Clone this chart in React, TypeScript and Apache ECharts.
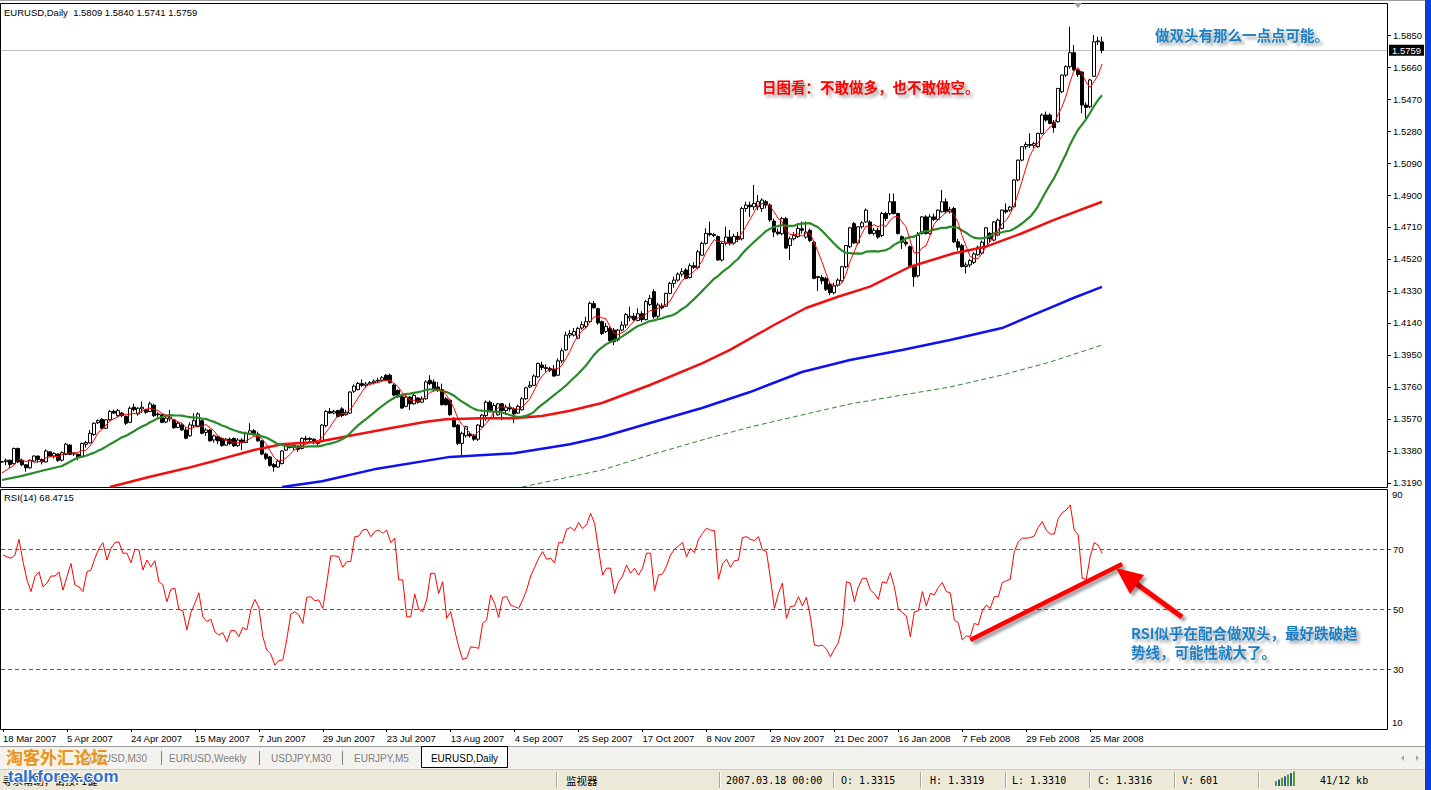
import React, { useEffect, useRef } from "react";
import * as echarts from "echarts";

// ---------- data ----------
// daily bars, [open, high, low, close]
const candles: number[][] = [
  [1.3315,1.3319,1.3310,1.3316],[1.3316,1.3335,1.3295,1.3325],[1.3325,1.3330,1.3280,1.3300],[1.3305,1.3400,1.3300,1.3395],
  [1.3395,1.3400,1.3310,1.3315],[1.3325,1.3335,1.3290,1.3298],[1.3298,1.3300,1.3257,1.3280],[1.3280,1.3330,1.3275,1.3325],
  [1.3320,1.3355,1.3315,1.3350],[1.3350,1.3352,1.3310,1.3330],[1.3330,1.3335,1.3300,1.3315],[1.3315,1.3390,1.3312,1.3380],
  [1.3375,1.3378,1.3345,1.3350],[1.3350,1.3372,1.3335,1.3365],[1.3362,1.3365,1.3315,1.3325],[1.3325,1.3378,1.3318,1.3370],
  [1.3360,1.3428,1.3355,1.3420],[1.3415,1.3420,1.3355,1.3360],[1.3362,1.3372,1.3350,1.3366],[1.3360,1.3365,1.3325,1.3340],
  [1.3345,1.3430,1.3340,1.3425],[1.3420,1.3440,1.3400,1.3430],[1.3428,1.3505,1.3425,1.3485],[1.3478,1.3550,1.3470,1.3545],
  [1.3548,1.3568,1.3540,1.3560],[1.3568,1.3575,1.3510,1.3515],[1.3515,1.3570,1.3510,1.3565],[1.3565,1.3624,1.3560,1.3614],
  [1.3615,1.3625,1.3600,1.3605],[1.3590,1.3630,1.3580,1.3620],[1.3605,1.3612,1.3580,1.3590],[1.3585,1.3590,1.3535,1.3545],
  [1.3550,1.3645,1.3545,1.3634],[1.3640,1.3660,1.3615,1.3625],[1.3600,1.3640,1.3590,1.3634],[1.3630,1.3673,1.3605,1.3640],
  [1.3625,1.3630,1.3600,1.3610],[1.3615,1.3673,1.3610,1.3660],[1.3652,1.3660,1.3582,1.3590],[1.3595,1.3610,1.3580,1.3600],
  [1.3595,1.3600,1.3545,1.3550],[1.3552,1.3585,1.3545,1.3575],[1.3570,1.3624,1.3555,1.3580],[1.3565,1.3570,1.3512,1.3518],
  [1.3520,1.3555,1.3515,1.3545],[1.3535,1.3545,1.3500,1.3505],[1.3505,1.3520,1.3450,1.3456],[1.3470,1.3550,1.3465,1.3535],
  [1.3530,1.3604,1.3520,1.3560],[1.3525,1.3610,1.3520,1.3600],[1.3560,1.3565,1.3480,1.3485],[1.3490,1.3515,1.3470,1.3505],
  [1.3505,1.3510,1.3436,1.3440],[1.3445,1.3478,1.3430,1.3470],[1.3465,1.3470,1.3420,1.3440],[1.3455,1.3460,1.3406,1.3412],
  [1.3415,1.3456,1.3410,1.3450],[1.3450,1.3460,1.3415,1.3425],[1.3455,1.3460,1.3405,1.3410],[1.3412,1.3456,1.3405,1.3445],
  [1.3445,1.3456,1.3386,1.3430],[1.3430,1.3495,1.3428,1.3485],[1.3485,1.3545,1.3480,1.3500],[1.3500,1.3510,1.3470,1.3480],
  [1.3480,1.3495,1.3435,1.3440],[1.3440,1.3445,1.3355,1.3362],[1.3362,1.3370,1.3325,1.3335],[1.3345,1.3350,1.3287,1.3295],
  [1.3300,1.3310,1.3257,1.3285],[1.3285,1.3330,1.3280,1.3320],[1.3305,1.3385,1.3300,1.3380],[1.3385,1.3420,1.3380,1.3410],
  [1.3410,1.3420,1.3395,1.3400],[1.3400,1.3428,1.3385,1.3415],[1.3410,1.3412,1.3375,1.3390],[1.3395,1.3460,1.3390,1.3455],
  [1.3455,1.3470,1.3440,1.3448],[1.3448,1.3462,1.3440,1.3455],[1.3450,1.3455,1.3420,1.3430],[1.3430,1.3440,1.3410,1.3425],
  [1.3440,1.3540,1.3430,1.3534],[1.3530,1.3623,1.3520,1.3615],[1.3615,1.3635,1.3600,1.3605],[1.3605,1.3625,1.3598,1.3615],
  [1.3620,1.3625,1.3580,1.3585],[1.3630,1.3640,1.3580,1.3590],[1.3595,1.3625,1.3590,1.3610],[1.3605,1.3735,1.3600,1.3730],
  [1.3735,1.3775,1.3725,1.3765],[1.3745,1.3790,1.3740,1.3781],[1.3780,1.3805,1.3760,1.3770],[1.3770,1.3790,1.3755,1.3778],
  [1.3778,1.3795,1.3770,1.3786],[1.3786,1.3805,1.3775,1.3795],[1.3795,1.3815,1.3785,1.3800],[1.3800,1.3825,1.3790,1.3815],
  [1.3830,1.3835,1.3795,1.3800],[1.3830,1.3840,1.3780,1.3785],[1.3772,1.3780,1.3705,1.3712],[1.3740,1.3745,1.3695,1.3702],
  [1.3702,1.3710,1.3630,1.3635],[1.3645,1.3712,1.3640,1.3700],[1.3700,1.3705,1.3623,1.3660],[1.3660,1.3722,1.3655,1.3710],
  [1.3695,1.3700,1.3660,1.3670],[1.3670,1.3705,1.3665,1.3690],[1.3690,1.3800,1.3685,1.3790],[1.3800,1.3830,1.3770,1.3780],
  [1.3790,1.3805,1.3738,1.3745],[1.3760,1.3790,1.3730,1.3740],[1.3745,1.3780,1.3650,1.3655],[1.3690,1.3700,1.3650,1.3655],
  [1.3682,1.3690,1.3590,1.3595],[1.3574,1.3580,1.3520,1.3524],[1.3534,1.3540,1.3415,1.3425],[1.3425,1.3495,1.3346,1.3485],
  [1.3470,1.3530,1.3460,1.3524],[1.3480,1.3495,1.3460,1.3470],[1.3470,1.3480,1.3440,1.3450],[1.3450,1.3540,1.3440,1.3534],
  [1.3524,1.3600,1.3520,1.3593],[1.3590,1.3680,1.3560,1.3670],[1.3670,1.3680,1.3610,1.3613],[1.3613,1.3665,1.3575,1.3650],
  [1.3595,1.3665,1.3590,1.3660],[1.3660,1.3665,1.3565,1.3620],[1.3620,1.3655,1.3595,1.3640],[1.3640,1.3665,1.3615,1.3630],
  [1.3630,1.3640,1.3545,1.3600],[1.3605,1.3655,1.3600,1.3645],[1.3625,1.3700,1.3620,1.3690],[1.3690,1.3762,1.3685,1.3755],
  [1.3760,1.3795,1.3755,1.3770],[1.3770,1.3835,1.3765,1.3825],[1.3820,1.3905,1.3815,1.3900],[1.3890,1.3910,1.3860,1.3875],
  [1.3875,1.3895,1.3850,1.3870],[1.3870,1.3880,1.3850,1.3860],[1.3865,1.3890,1.3820,1.3825],[1.3830,1.3930,1.3825,1.3915],
  [1.3915,1.3990,1.3900,1.3975],[1.3980,1.4088,1.3975,1.4068],[1.4068,1.4098,1.4050,1.4078],[1.4068,1.4110,1.4060,1.4090],
  [1.4050,1.4118,1.4045,1.4108],[1.4110,1.4150,1.4100,1.4130],[1.4120,1.4177,1.4110,1.4148],[1.4148,1.4267,1.4140,1.4257],
  [1.4255,1.4270,1.4225,1.4230],[1.4225,1.4230,1.4130,1.4140],[1.4148,1.4155,1.4068,1.4078],[1.4090,1.4140,1.4080,1.4120],
  [1.4108,1.4118,1.4020,1.4035],[1.4098,1.4110,1.4009,1.4029],[1.4040,1.4105,1.4030,1.4098],[1.4098,1.4150,1.4090,1.4128],
  [1.4128,1.4200,1.4110,1.4190],[1.4170,1.4237,1.4150,1.4180],[1.4180,1.4200,1.4150,1.4160],[1.4155,1.4227,1.4150,1.4195],
  [1.4195,1.4210,1.4145,1.4160],[1.4160,1.4277,1.4155,1.4267],[1.4250,1.4306,1.4240,1.4286],[1.4326,1.4340,1.4165,1.4177],
  [1.4180,1.4260,1.4170,1.4247],[1.4240,1.4257,1.4220,1.4230],[1.4240,1.4320,1.4235,1.4316],[1.4316,1.4385,1.4310,1.4375],
  [1.4375,1.4415,1.4350,1.4395],[1.4395,1.4440,1.4385,1.4430],[1.4430,1.4465,1.4415,1.4445],[1.4455,1.4465,1.4400,1.4405],
  [1.4410,1.4494,1.4405,1.4480],[1.4480,1.4500,1.4460,1.4470],[1.4470,1.4573,1.4460,1.4563],[1.4543,1.4623,1.4540,1.4613],
  [1.4613,1.4702,1.4605,1.4672],[1.4672,1.4742,1.4655,1.4665],[1.4665,1.4675,1.4650,1.4660],[1.4653,1.4660,1.4510,1.4514],
  [1.4514,1.4620,1.4505,1.4613],[1.4613,1.4712,1.4600,1.4650],[1.4650,1.4692,1.4600,1.4615],[1.4615,1.4670,1.4605,1.4655],
  [1.4655,1.4680,1.4620,1.4635],[1.4640,1.4830,1.4630,1.4820],[1.4820,1.4860,1.4800,1.4840],[1.4840,1.4860,1.4770,1.4830],
  [1.4830,1.4960,1.4810,1.4850],[1.4830,1.4900,1.4810,1.4860],[1.4820,1.4880,1.4800,1.4870],[1.4860,1.4870,1.4820,1.4840],
  [1.4840,1.4850,1.4740,1.4752],[1.4745,1.4760,1.4650,1.4680],[1.4680,1.4700,1.4660,1.4670],[1.4670,1.4770,1.4660,1.4760],
  [1.4760,1.4770,1.4580,1.4585],[1.4600,1.4653,1.4514,1.4640],[1.4640,1.4680,1.4630,1.4660],[1.4653,1.4732,1.4645,1.4702],
  [1.4700,1.4742,1.4670,1.4690],[1.4650,1.4742,1.4640,1.4680],[1.4690,1.4700,1.4620,1.4630],[1.4620,1.4630,1.4400,1.4405],
  [1.4415,1.4420,1.4330,1.4410],[1.4410,1.4425,1.4370,1.4390],[1.4405,1.4415,1.4330,1.4340],[1.4370,1.4385,1.4305,1.4320],
  [1.4320,1.4380,1.4310,1.4360],[1.4365,1.4405,1.4355,1.4395],[1.4390,1.4480,1.4385,1.4474],[1.4474,1.4603,1.4465,1.4600],
  [1.4593,1.4711,1.4585,1.4705],[1.4730,1.4740,1.4610,1.4615],[1.4615,1.4715,1.4605,1.4711],[1.4711,1.4745,1.4700,1.4735],
  [1.4740,1.4820,1.4735,1.4810],[1.4740,1.4750,1.4665,1.4672],[1.4672,1.4705,1.4660,1.4690],[1.4690,1.4705,1.4640,1.4650],
  [1.4660,1.4800,1.4650,1.4790],[1.4790,1.4800,1.4745,1.4760],[1.4790,1.4909,1.4780,1.4860],[1.4860,1.4909,1.4785,1.4790],
  [1.4790,1.4795,1.4665,1.4672],[1.4652,1.4660,1.4580,1.4620],[1.4620,1.4650,1.4595,1.4610],[1.4593,1.4600,1.4470,1.4474],
  [1.4474,1.4480,1.4355,1.4414],[1.4420,1.4680,1.4410,1.4660],[1.4672,1.4775,1.4665,1.4770],[1.4770,1.4780,1.4665,1.4672],
  [1.4672,1.4785,1.4665,1.4770],[1.4770,1.4790,1.4745,1.4755],[1.4755,1.4815,1.4745,1.4810],[1.4800,1.4929,1.4795,1.4860],
  [1.4860,1.4880,1.4790,1.4800],[1.4800,1.4830,1.4790,1.4815],[1.4820,1.4830,1.4615,1.4622],[1.4622,1.4640,1.4570,1.4590],
  [1.4600,1.4610,1.4470,1.4475],[1.4475,1.4500,1.4434,1.4485],[1.4485,1.4520,1.4470,1.4510],[1.4500,1.4560,1.4490,1.4550],
  [1.4545,1.4600,1.4540,1.4590],[1.4555,1.4630,1.4550,1.4620],[1.4593,1.4711,1.4585,1.4705],[1.4672,1.4680,1.4620,1.4640],
  [1.4632,1.4745,1.4625,1.4740],[1.4662,1.4760,1.4655,1.4751],[1.4701,1.4815,1.4695,1.4810],[1.4810,1.4850,1.4790,1.4800],
  [1.4810,1.4835,1.4800,1.4828],[1.4830,1.4995,1.4825,1.4989],[1.4989,1.5110,1.4980,1.5107],[1.5107,1.5190,1.5100,1.5187],
  [1.5187,1.5215,1.5170,1.5200],[1.5200,1.5266,1.5180,1.5195],[1.5195,1.5215,1.5180,1.5205],[1.5187,1.5270,1.5180,1.5266],
  [1.5266,1.5385,1.5260,1.5375],[1.5375,1.5395,1.5335,1.5345],[1.5375,1.5385,1.5320,1.5325],[1.5330,1.5345,1.5270,1.5300],
  [1.5335,1.5535,1.5330,1.5533],[1.5513,1.5615,1.5505,1.5612],[1.5612,1.5670,1.5600,1.5662],[1.5662,1.5899,1.5650,1.5745],
  [1.5745,1.5790,1.5640,1.5642],[1.5642,1.5650,1.5600,1.5615],[1.5630,1.5635,1.5385,1.5434],[1.5434,1.5450,1.5355,1.5420],
  [1.5424,1.5590,1.5415,1.5583],[1.5605,1.5850,1.5600,1.5810],[1.5810,1.5840,1.5790,1.5815],[1.5809,1.5840,1.5741,1.5759],
];

// RSI(14) per bar
const rsiValues: number[] = [
  68.0,67.4,66.9,68.0,73.2,65.8,59.7,55.8,60.8,62.4,57.4,58.6,61.0,61.0,62.4,56.3,60.8,65.2,58.0,57.4,
  55.8,62.4,63.0,66.9,70.2,72.1,66.3,70.2,72.1,72.4,68.6,68.6,65.4,69.9,69.7,63.0,66.3,64.1,66.1,59.1,
  58.0,52.4,56.6,56.9,49.9,49.4,43.0,48.8,51.9,55.4,47.4,45.8,46.6,42.4,41.3,42.1,39.1,42.8,42.8,40.8,
  43.9,43.0,49.7,53.2,50.6,40.8,36.3,35.0,31.3,32.8,33.0,39.9,48.3,49.1,48.0,45.2,53.9,54.1,52.8,53.0,
  50.2,58.6,67.7,67.7,67.4,63.9,65.8,65.8,74.1,74.3,76.3,76.6,74.1,75.8,76.3,75.2,76.3,72.1,73.6,59.7,
  59.7,47.4,47.4,55.0,49.9,49.1,53.0,61.9,61.9,55.2,59.1,46.9,49.1,43.0,37.4,33.2,33.6,37.4,37.2,36.9,
  45.2,46.3,54.7,51.9,47.2,53.9,54.1,51.3,50.8,50.2,53.0,56.3,61.0,63.9,66.9,69.1,66.6,
  66.9,65.4,72.1,72.1,76.6,77.2,76.1,78.8,76.8,78.1,
  81.9,78.6,69.7,61.3,63.6,63.6,55.2,59.1,61.0,64.7,
  61.9,63.6,61.3,63.6,68.6,68.6,56.1,61.3,61.7,64.3,
  68.0,69.9,71.0,72.2,67.4,70.2,68.8,73.2,75.2,76.9,
  76.3,76.1,59.9,65.0,66.6,63.9,66.1,66.3,73.8,74.1,
  73.2,72.8,74.1,69.7,69.1,60.2,50.2,55.2,58.6,46.9,
  50.8,51.0,54.1,51.0,53.9,47.2,38.0,37.7,38.0,36.6,
  34.1,36.6,38.8,44.7,59.1,58.6,52.4,57.4,60.2,60.2,
  56.3,55.2,53.2,59.1,58.6,62.1,57.4,49.9,48.8,47.7,
  40.8,49.1,49.4,55.8,51.0,55.2,54.7,57.2,58.8,55.8,
  55.4,46.3,45.4,39.7,41.0,40.8,45.2,44.7,49.4,51.3,
  50.2,54.1,54.1,58.8,59.4,59.9,69.1,72.4,73.6,73.6,
  73.8,74.3,77.2,79.1,76.3,75.0,75.0,80.2,82.1,83.0,
  84.7,76.3,74.7,60.2,59.9,67.4,72.1,71.3,68.47,
];

const dateLabels = [
  "18 Mar 2007","5 Apr 2007","24 Apr 2007","15 May 2007","7 Jun 2007","29 Jun 2007",
  "23 Jul 2007","13 Aug 2007","4 Sep 2007","25 Sep 2007","17 Oct 2007","8 Nov 2007",
  "29 Nov 2007","21 Dec 2007","16 Jan 2008","7 Feb 2008","29 Feb 2008","25 Mar 2008",
];
const priceTicks = [1.319,1.338,1.357,1.376,1.395,1.414,1.433,1.452,1.471,1.490,1.509,1.528,1.547,1.566,1.585];
const rsiLevels = [30, 50, 70];

// moving-average lines: [bar index, value]
const thinRedLead: number[][] = [[0, 1.3250], [3, 1.3295]];
const greenLead: number[][] = [[0, 1.3208], [5, 1.3232], [10, 1.3263], [15, 1.3291]];
const ma50Points: number[][] = [
  [27,1.3166],[37,1.3227],[46,1.3277],[54,1.3327],[63,1.3386],[70,1.3420],[79,1.3435],[88,1.3475],
  [97,1.3515],[106,1.3554],[111,1.3568],[120,1.3574],[128,1.3574],[135,1.3588],[142,1.3619],[150,1.3665],
  [162,1.3772],[175,1.3900],[182,1.3980],[193,1.4128],[201,1.4229],[209,1.4296],[217,1.4356],[227,1.4474],
  [238,1.4554],[246,1.4593],[255,1.4673],[263,1.4752],[275,1.4860],
];
const ma100Points: number[][] = [
  [70,1.3166],[80,1.3200],[93,1.3271],[112,1.3345],[128,1.3366],[142,1.3420],[150,1.3463],[162,1.3546],
  [175,1.3635],[187,1.3730],[200,1.3849],[212,1.3920],[225,1.3980],[237,1.4039],[250,1.4110],[256,1.4170],
  [262,1.4230],[268,1.4290],[275,1.4354],
];
const ma200Points: number[][] = [
  [130,1.3166],[150,1.3267],[162,1.3356],[175,1.3445],[187,1.3522],[200,1.3594],[212,1.3659],[225,1.3712],
  [237,1.3760],[250,1.3831],[262,1.3908],[275,1.4009],
];
const rsiTrend: number[][] = [[242, 39.7], [280, 65.0]];
const lastPrice = 1.5759;
const headerText = "EURUSD,Daily  1.5809 1.5840 1.5741 1.5759";
const rsiHeaderText = "RSI(14) 68.4715";
const statusItems = ["2007.03.18 00:00", "O: 1.3315", "H: 1.3319", "L: 1.3310", "C: 1.3316", "V: 601"];
const tabs = ["EURUSD,M30", "EURUSD,Weekly", "USDJPY,M30", "EURJPY,M5"];
const activeTab = "EURUSD,Daily";

// ---------- chart ----------
const N_CAT = 347;
const FONT = '"Liberation Sans", Arial, sans-serif';
const CJK = '"Noto Sans CJK SC", sans-serif';
const MONO = '"DejaVu Sans Mono", monospace';

function smaLine(period: number, lead: number[][]) {
  const closes = candles.map((c) => c[3]);
  const out: (number | null)[] = new Array(candles.length).fill(null);
  lead.forEach(([i, v]) => (out[i] = v));
  for (let i = period - 1; i < closes.length; i++) {
    let s = 0;
    for (let j = i - period + 1; j <= i; j++) s += closes[j];
    out[i] = s / period;
  }
  return out;
}
function sparse(points: number[][]) {
  const out: (number | null)[] = new Array(candles.length).fill(null);
  points.forEach(([i, v]) => (out[i] = v));
  return out;
}

const shadow = { shadowColor: "rgba(0,0,0,0.38)", shadowBlur: 3, shadowOffsetX: 3, shadowOffsetY: 3 };

function text(x: number, y: number, t: string, font: string, fill = "#000", align = "left", extra: any = {}) {
  return {
    type: "text", x, y, z: 120, silent: true,
    style: { text: t, font, fill, align, verticalAlign: "middle", textAlign: align, textVerticalAlign: "middle", ...extra },
  };
}
function rect(x: number, y: number, w: number, h: number, style: any, z = 110) {
  return { type: "rect", z, silent: true, shape: { x, y, width: w, height: h }, style };
}
function vline(x: number, y1: number, y2: number, stroke: string, z = 115) {
  return { type: "line", z, silent: true, shape: { x1: x, y1, x2: x, y2 }, style: { stroke, lineWidth: 1 } };
}

export default function App() {
  const ref = useRef<HTMLDivElement>(null);
  useEffect(() => {
    document.body.style.margin = "0";
    const chart = echarts.init(ref.current!, undefined, { renderer: "svg" });
    const cats = Array.from({ length: N_CAT }, (_, i) => String(i));
    const labelInterval = (idx: number) => idx % 16 === 0 && idx / 16 < dateLabels.length;

    const annShadow = { textShadowColor: "rgba(0,0,0,0.35)", textShadowBlur: 3, textShadowOffsetX: 3, textShadowOffsetY: 3 };

    // status bar separators
    const sepXs = [556, 719, 833, 920, 1005, 1089, 1174, 1258];
    const statusXs = [726, 841, 930, 1012, 1098, 1182];

    const graphic: any[] = [
      // window edge line and frames
      { type: "line", z: 100, silent: true, shape: { x1: 0, y1: 0.5, x2: 1425, y2: 0.5 }, style: { stroke: "#a0a0a0", lineWidth: 1 } },
      { type: "rect", z: 100, silent: true, shape: { x: 0.5, y: 3.5, width: 1387, height: 484 }, style: { fill: "none", stroke: "#000", lineWidth: 1 } },
      { type: "rect", z: 100, silent: true, shape: { x: 0.5, y: 489.5, width: 1387, height: 240 }, style: { fill: "none", stroke: "#000", lineWidth: 1 } },
      // chart shift marker
      { type: "polygon", z: 100, silent: true, shape: { points: [[1074, 3], [1082, 3], [1078, 8]] }, style: { fill: "#a0a0a0" } },
      text(4, 12, headerText, "9.5px " + FONT),
      text(4, 497, rsiHeaderText, "9.5px " + FONT),
      text(1392, 494, "90", "9.5px " + FONT),
      text(1392, 722, "10", "9.5px " + FONT),
      // annotations
      text(762, 86, "日图看：不敢做多，也不敢做空。", "bold 14.5px " + CJK, "#ff0000", "left", annShadow),
      text(1155, 34, "做双头有那么一点点可能。", "bold 14.5px " + CJK, "#1b7fc4", "left", annShadow),
      text(1131, 632, "RSI似乎在配合做双头，最好跌破趋", "bold 14.5px " + CJK, "#1b7fc4", "left", annShadow),
      text(1131, 651, "势线，可能性就大了。", "bold 14.5px " + CJK, "#1b7fc4", "left", annShadow),
      // arrow
      { type: "line", z: 118, silent: true, shape: { x1: 1182, y1: 617, x2: 1134, y2: 582 }, style: { stroke: "#ff0000", lineWidth: 5, ...shadow } },
      { type: "polygon", z: 118, silent: true, shape: { points: [[1116, 568], [1144, 575], [1130, 594]] }, style: { fill: "#ff0000", ...shadow } },
      // right window border
      rect(1425, 0, 6, 790, { fill: "#0c40d4" }, 130),
      // tab bar
      rect(0, 746, 1425, 23, { fill: "#f3f2ee" }),
      { type: "line", z: 112, silent: true, shape: { x1: 0, y1: 746.5, x2: 1425, y2: 746.5 }, style: { stroke: "#9a9a9a", lineWidth: 1 } },
      text(147, 758, tabs[0], "10px " + FONT, "#808080", "right"),
      vline(161.5, 751, 765, "#808080"),
      text(169, 758, tabs[1], "10px " + FONT, "#808080"),
      vline(259.5, 751, 765, "#808080"),
      text(271, 758, tabs[2], "10px " + FONT, "#808080"),
      vline(342.5, 751, 765, "#808080"),
      text(354, 758, tabs[3], "10px " + FONT, "#808080"),
      rect(421.5, 746.5, 86, 21, { fill: "#fff", stroke: "#000", lineWidth: 1 }, 113),
      text(464.5, 758, activeTab, "10px " + FONT, "#000", "center"),
      { type: "polygon", z: 115, silent: true, shape: { points: [[1404, 755], [1404, 761], [1401, 758]] }, style: { fill: "#a8a8a8" } },
      { type: "polygon", z: 115, silent: true, shape: { points: [[1416, 755], [1416, 761], [1419, 758]] }, style: { fill: "#a8a8a8" } },
      // status bar
      rect(0, 769, 1425, 21, { fill: "#ece9d8" }),
      { type: "line", z: 112, silent: true, shape: { x1: 0, y1: 769.5, x2: 1425, y2: 769.5 }, style: { stroke: "#d0cdbf", lineWidth: 1 } },
      text(2, 780, "寻求帮助，请按F1键", "10.5px " + CJK, "#000"),
      text(566, 780, "监视器", "10.5px " + CJK, "#000"),
      ...sepXs.map((x) => vline(x + 0.5, 772, 788, "#aca899")),
      ...sepXs.map((x) => vline(x + 1.5, 772, 788, "#ffffff")),
      ...statusItems.map((s, i) => text(statusXs[i], 780, s, "10px " + MONO, "#000")),
      text(1320, 780, "41/12 kb", "10px " + MONO, "#000"),
      ...[0, 1, 2, 3, 4, 5, 6].map((k) =>
        rect(1275 + k * 3, 786 - (5 + k * 1.6), 2, 5 + k * 1.6, { fill: k % 2 ? "#1f5fa8" : "#5a9a2a" }, 116)
      ),
      // watermark
      text(6, 756, "淘客外汇论坛", "bold 17px " + CJK, "#e6922a", "left", { stroke: "#fff2c0", lineWidth: 1 }),
      text(8, 776, "talkforex.com", "bold 17px " + FONT, "#2f6fd0", "left", { stroke: "#ffffff", lineWidth: 2 }),
    ];

    const option: any = {
      animation: false,
      backgroundColor: "#ffffff",
      grid: [
        { left: 0, top: 4, width: N_CAT * 4, height: 483 },
        { left: 0, top: 489, width: N_CAT * 4, height: 240 },
      ],
      xAxis: [
        { type: "category", gridIndex: 0, data: cats, boundaryGap: true, axisLine: { show: false }, axisTick: { show: false }, axisLabel: { show: false }, splitLine: { show: false } },
        {
          type: "category", gridIndex: 1, data: cats, boundaryGap: true, position: "bottom",
          axisLine: { show: false },
          axisTick: { show: true, interval: labelInterval, alignWithLabel: true, length: 3, lineStyle: { color: "#000" } },
          axisLabel: {
            show: true, interval: labelInterval, align: "left", margin: 4,
            formatter: (_v: string, idx: number) => dateLabels[idx / 16] ?? "",
            fontSize: 9.5, fontFamily: FONT, color: "#000",
          },
          splitLine: { show: false },
        },
      ],
      yAxis: [
        {
          type: "value", gridIndex: 0, position: "right", min: 1.31662, max: 1.60341,
          axisLine: { show: false },
          axisTick: { show: true, length: 3, customValues: priceTicks, lineStyle: { color: "#000" } },
          axisLabel: { show: true, customValues: priceTicks, margin: 5, formatter: (v: number) => v.toFixed(4), fontSize: 9.5, fontFamily: FONT, color: "#000" },
          splitLine: { show: false },
        },
        {
          type: "value", gridIndex: 1, position: "right", min: 10, max: 90,
          axisLine: { show: false },
          axisTick: { show: true, length: 3, customValues: rsiLevels, lineStyle: { color: "#3333dd" } },
          axisLabel: { show: true, customValues: rsiLevels, margin: 5, fontSize: 9.5, fontFamily: FONT, color: "#000" },
          splitLine: { show: false },
        },
      ],
      series: [
        {
          type: "candlestick", xAxisIndex: 0, yAxisIndex: 0, barWidth: 3, z: 3,
          data: candles.map(([o, h, l, c]) => [o, c, l, h]),
          itemStyle: { color: "#ffffff", color0: "#000000", borderColor: "#000000", borderColor0: "#000000", borderWidth: 1 },
          markLine: {
            silent: true, symbol: ["none", "none"], z: 1, precision: 4,
            lineStyle: { color: "#c0c0c0", width: 1, type: "solid" },
            label: {
              show: true, position: "end", distance: 1, formatter: lastPrice.toFixed(4),
              color: "#fff", backgroundColor: "#000", padding: [1, 3, 0, 3], fontSize: 9.5, fontFamily: FONT,
            },
            data: [{ yAxis: lastPrice }],
          },
        },
        { type: "line", xAxisIndex: 0, yAxisIndex: 0, data: sparse(ma200Points), connectNulls: true, symbol: "none", z: 4, lineStyle: { color: "#2a8a2a", width: 1, type: [5, 3] } },
        { type: "line", xAxisIndex: 0, yAxisIndex: 0, data: sparse(ma100Points), connectNulls: true, symbol: "none", z: 4, lineStyle: { color: "#1010f0", width: 2.5 } },
        { type: "line", xAxisIndex: 0, yAxisIndex: 0, data: sparse(ma50Points), connectNulls: true, symbol: "none", z: 4, lineStyle: { color: "#f01010", width: 2.5 } },
        { type: "line", xAxisIndex: 0, yAxisIndex: 0, data: smaLine(20, greenLead), connectNulls: true, symbol: "none", z: 5, lineStyle: { color: "#2a8a2a", width: 2.2 } },
        { type: "line", xAxisIndex: 0, yAxisIndex: 0, data: smaLine(5, thinRedLead), connectNulls: true, symbol: "none", z: 6, lineStyle: { color: "#ff0000", width: 1 } },
        {
          type: "line", xAxisIndex: 1, yAxisIndex: 1, data: rsiValues, symbol: "none", z: 5,
          lineStyle: { color: "#ff0000", width: 1 },
          markLine: {
            silent: true, symbol: ["none", "none"], label: { show: false }, precision: 4,
            lineStyle: { color: "#5050dd", width: 1, type: [4, 3] },
            data: [
              ...rsiLevels.map((v) => ({ yAxis: v })),
              [
                { coord: [String(rsiTrend[0][0]), rsiTrend[0][1]], lineStyle: { color: "#ff0000", width: 4.5, type: "solid", ...shadow } },
                { coord: [String(rsiTrend[1][0]), rsiTrend[1][1]] },
              ],
            ],
          },
        },
      ],
      graphic,
    };
    chart.setOption(option);
    return () => chart.dispose();
  }, []);
  return <div ref={ref} style={{ width: 1431, height: 790, background: "#fff" }} />;
}
